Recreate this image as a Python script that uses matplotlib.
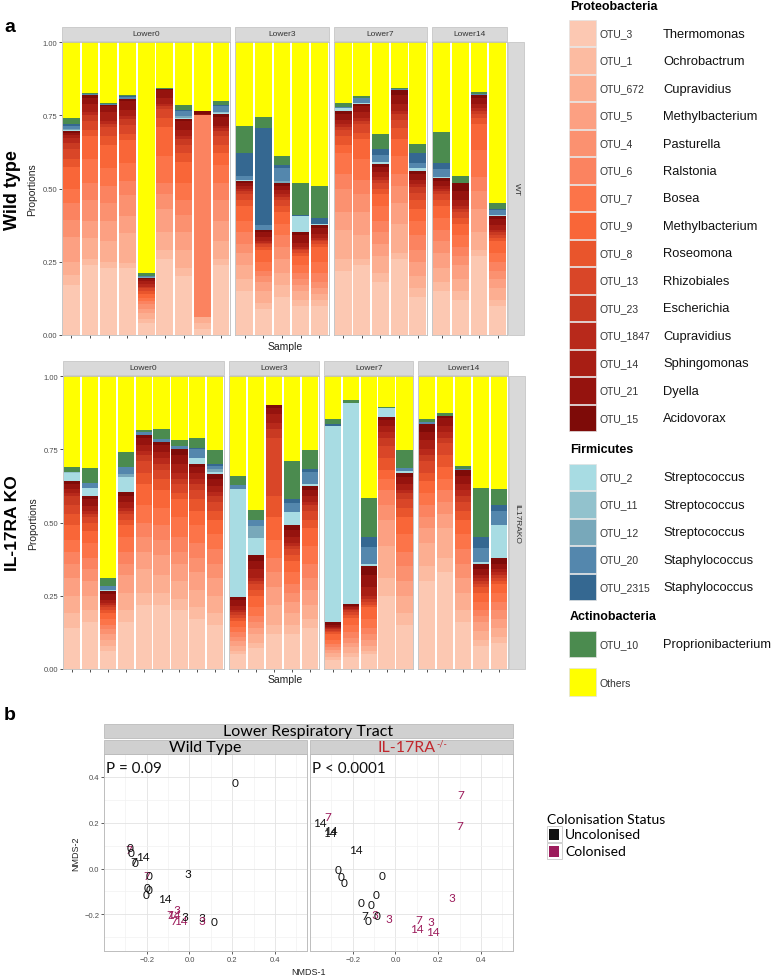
import matplotlib
matplotlib.use('Agg')
import matplotlib.pyplot as plt
from matplotlib.patches import Rectangle
import numpy as np

W, H = 778, 979

# legend / category info
proteo_otus = ['OTU_3', 'OTU_1', 'OTU_672', 'OTU_5', 'OTU_4', 'OTU_6', 'OTU_7', 'OTU_9',
               'OTU_8', 'OTU_13', 'OTU_23', 'OTU_1847', 'OTU_14', 'OTU_21', 'OTU_15']
proteo_genus = ['Thermomonas', 'Ochrobactrum', 'Cupravidius', 'Methylbacterium', 'Pasturella',
                'Ralstonia', 'Bosea', 'Methylbacterium', 'Roseomona', 'Rhizobiales',
                'Escherichia', 'Cupravidius', 'Sphingomonas', 'Dyella', 'Acidovorax']
proteo_colors = ['#FCC8B2', '#FCBBA1', '#FCAE91', '#FCA082', '#FB9170', '#FB8360', '#FC7449',
                 '#F96638', '#E9552C', '#D94628', '#C93A22', '#B8291B', '#A81E14', '#95130E',
                 '#7E0B08']
firm_otus = ['OTU_2', 'OTU_11', 'OTU_12', 'OTU_20', 'OTU_2315']
firm_genus = ['Streptococcus', 'Streptococcus', 'Streptococcus', 'Staphylococcus', 'Staphylococcus']
firm_colors = ['#A8DCE3', '#92C2CD', '#78A8BA', '#5487AD', '#356891']
actino_otus = ['OTU_10']
actino_genus = ['Proprionibacterium']
actino_color = '#4B8B4F'
others_color = '#FFFF00'

panel_names = ['Lower0', 'Lower3', 'Lower7', 'Lower14']

# ---- Wild type bars (proteo: 15 OTUs bottom->top, firm: 5 OTUs, actino) ----
wt0_proteo = [
    [0.17, 0.035, 0.045, 0.085, 0.057, 0.06, 0.048, 0.074, 0.026, 0.036, 0.02, 0.015, 0.012, 0.008, 0.005],
    [0.24, 0.02, 0.07, 0.06, 0.07, 0.06, 0.08, 0.08, 0.02, 0.03, 0.02, 0.01, 0.03, 0.02, 0.008],
    [0.23, 0.02, 0.07, 0.07, 0.06, 0.06, 0.06, 0.08, 0.03, 0.03, 0.01, 0.01, 0.03, 0.02, 0.005],
    [0.227, 0.02, 0.1, 0.06, 0.07, 0.05, 0.06, 0.08, 0.02, 0.03, 0.02, 0.01, 0.02, 0.03, 0.01],
    [0.04, 0.015, 0.02, 0.015, 0.015, 0.01, 0.01, 0.015, 0.01, 0.01, 0.005, 0.008, 0.01, 0.007, 0.005],
    [0.26, 0.03, 0.06, 0.08, 0.05, 0.04, 0.09, 0.1, 0.03, 0.03, 0.01, 0.01, 0.02, 0.025, 0.005],
    [0.2, 0.03, 0.06, 0.06, 0.06, 0.05, 0.06, 0.07, 0.03, 0.03, 0.02, 0.01, 0.02, 0.03, 0.008],
    [0.02, 0.02, 0.02, 0.0, 0.0, 0.69, 0.0, 0.0, 0.0, 0.0, 0.0, 0.0, 0.0, 0.005, 0.008],
    [0.24, 0.02, 0.06, 0.07, 0.07, 0.06, 0.06, 0.04, 0.03, 0.03, 0.015, 0.01, 0.01, 0.03, 0.01],
]
wt0_firm = [[0.003, 0, 0.005, 0.01, 0.005], [0, 0, 0, 0.003, 0], [0, 0, 0, 0.003, 0],
            [0, 0, 0, 0.005, 0.003], [0, 0, 0.003, 0.005, 0], [0, 0, 0, 0, 0],
            [0.004, 0, 0.005, 0.018, 0.003], [0, 0, 0, 0, 0], [0.004, 0.003, 0, 0.02, 0.003]]
wt0_actino = [0.02, 0.006, 0.005, 0.005, 0.01, 0.002, 0.018, 0.003, 0.014]

wt3_proteo = [
    [0.15, 0.04, 0.05, 0.04, 0.03, 0.04, 0.04, 0.05, 0.02, 0.02, 0.01, 0.01, 0.01, 0.01, 0.005],
    [0.09, 0.02, 0.04, 0.03, 0.02, 0.02, 0.03, 0.04, 0.01, 0.01, 0.005, 0.005, 0.015, 0.015, 0.008],
    [0.13, 0.04, 0.04, 0.05, 0.04, 0.04, 0.04, 0.04, 0.02, 0.02, 0.01, 0.01, 0.015, 0.015, 0.01],
    [0.1, 0.02, 0.03, 0.02, 0.02, 0.02, 0.03, 0.03, 0.01, 0.01, 0.005, 0.005, 0.015, 0.025, 0.01],
    [0.1, 0.02, 0.02, 0.02, 0.02, 0.03, 0.04, 0.05, 0.01, 0.01, 0.005, 0.005, 0.015, 0.02, 0.01],
]
wt3_firm = [[0.003, 0, 0, 0.015, 0.079], [0, 0, 0, 0.017, 0.33], [0, 0, 0.005, 0.045, 0.01],
            [0.055, 0, 0, 0, 0.006], [0.003, 0, 0, 0, 0.02]]
wt3_actino = [0.093, 0.04, 0.03, 0.108, 0.11]

wt7_proteo = [
    [0.22, 0.04, 0.1, 0.06, 0.08, 0.05, 0.07, 0.03, 0.03, 0.02, 0.01, 0.01, 0.015, 0.02, 0.01],
    [0.24, 0.02, 0.08, 0.08, 0.06, 0.05, 0.07, 0.07, 0.02, 0.03, 0.01, 0.01, 0.02, 0.02, 0.01],
    [0.18, 0.03, 0.06, 0.04, 0.04, 0.04, 0.05, 0.04, 0.02, 0.02, 0.01, 0.01, 0.015, 0.02, 0.01],
    [0.26, 0.02, 0.1, 0.07, 0.06, 0.04, 0.06, 0.06, 0.035, 0.03, 0.02, 0.01, 0.025, 0.03, 0.015],
    [0.13, 0.03, 0.04, 0.05, 0.04, 0.05, 0.05, 0.04, 0.03, 0.025, 0.02, 0.01, 0.015, 0.02, 0.01],
]
wt7_firm = [[0.01, 0, 0, 0.004, 0], [0.003, 0, 0, 0.015, 0], [0.005, 0, 0, 0.025, 0.02],
            [0, 0, 0, 0.004, 0], [0.01, 0, 0, 0.017, 0.035]]
wt7_actino = [0.013, 0.008, 0.05, 0.004, 0.03]

wt14_proteo = [
    [0.15, 0.03, 0.05, 0.05, 0.04, 0.04, 0.04, 0.04, 0.02, 0.02, 0.01, 0.01, 0.01, 0.015, 0.01],
    [0.12, 0.03, 0.04, 0.05, 0.03, 0.03, 0.04, 0.04, 0.02, 0.02, 0.01, 0.01, 0.02, 0.03, 0.03],
    [0.27, 0.02, 0.06, 0.08, 0.06, 0.05, 0.09, 0.09, 0.02, 0.015, 0.01, 0.01, 0.015, 0.02, 0.008],
    [0.1, 0.02, 0.04, 0.03, 0.03, 0.03, 0.03, 0.04, 0.01, 0.01, 0.01, 0.01, 0.015, 0.02, 0.01],
]
wt14_firm = [[0.005, 0, 0, 0.028, 0.02], [0, 0, 0, 0, 0], [0, 0, 0, 0.005, 0],
             [0.005, 0, 0, 0.015, 0.005]]
wt14_actino = [0.105, 0.022, 0.007, 0.02]

# ---- IL-17RA KO bars ----
ko0_proteo = [
    [0.14, 0.05, 0.06, 0.06, 0.05, 0.04, 0.04, 0.05, 0.04, 0.03, 0.03, 0.01, 0.015, 0.015, 0.01],
    [0.16, 0.04, 0.05, 0.05, 0.04, 0.04, 0.05, 0.04, 0.03, 0.02, 0.01, 0.01, 0.015, 0.025, 0.01],
    [0.06, 0.02, 0.02, 0.02, 0.015, 0.015, 0.02, 0.02, 0.01, 0.01, 0.01, 0.005, 0.01, 0.02, 0.01],
    [0.16, 0.04, 0.06, 0.06, 0.04, 0.04, 0.05, 0.04, 0.02, 0.02, 0.01, 0.01, 0.02, 0.02, 0.015],
    [0.22, 0.04, 0.08, 0.06, 0.05, 0.05, 0.06, 0.07, 0.04, 0.04, 0.02, 0.015, 0.02, 0.025, 0.01],
    [0.22, 0.04, 0.06, 0.07, 0.05, 0.05, 0.06, 0.06, 0.04, 0.03, 0.02, 0.02, 0.02, 0.025, 0.01],
    [0.2, 0.04, 0.06, 0.06, 0.04, 0.05, 0.07, 0.06, 0.02, 0.03, 0.02, 0.02, 0.03, 0.03, 0.02],
    [0.17, 0.04, 0.06, 0.06, 0.05, 0.05, 0.06, 0.05, 0.04, 0.03, 0.02, 0.02, 0.02, 0.02, 0.01],
    [0.15, 0.04, 0.06, 0.06, 0.05, 0.05, 0.05, 0.05, 0.03, 0.03, 0.02, 0.015, 0.02, 0.025, 0.015],
]
ko0_firm = [[0.03, 0.003, 0, 0, 0], [0.028, 0, 0, 0.017, 0], [0.005, 0, 0, 0.012, 0],
            [0.05, 0, 0.01, 0.025, 0], [0, 0, 0, 0.01, 0], [0, 0, 0, 0.01, 0],
            [0, 0, 0, 0.01, 0], [0.02, 0, 0, 0.03, 0.005], [0.006, 0, 0.01, 0.012, 0.005]]
ko0_actino = [0.017, 0.05, 0.03, 0.05, 0.006, 0.035, 0.02, 0.035, 0.05]

ko3_proteo = [
    [0.05, 0.01, 0.02, 0.015, 0.015, 0.015, 0.02, 0.02, 0.01, 0.01, 0.01, 0.005, 0.015, 0.02, 0.01],
    [0.07, 0.02, 0.03, 0.02, 0.02, 0.02, 0.03, 0.04, 0.02, 0.02, 0.01, 0.01, 0.03, 0.03, 0.02],
    [0.12, 0.03, 0.07, 0.06, 0.05, 0.05, 0.06, 0.08, 0.07, 0.2, 0.03, 0.02, 0.03, 0.02, 0.01],
    [0.12, 0.03, 0.04, 0.04, 0.03, 0.03, 0.04, 0.04, 0.02, 0.02, 0.01, 0.01, 0.02, 0.025, 0.015],
    [0.14, 0.03, 0.05, 0.05, 0.04, 0.05, 0.06, 0.06, 0.03, 0.03, 0.02, 0.01, 0.02, 0.02, 0.015],
]
ko3_firm = [[0.37, 0, 0, 0.012, 0], [0.057, 0, 0.04, 0.02, 0], [0, 0, 0, 0, 0],
            [0.045, 0, 0, 0.03, 0.015], [0.006, 0, 0, 0.04, 0.012]]
ko3_actino = [0.033, 0.035, 0.0, 0.13, 0.065]

ko7_proteo = [
    [0.03, 0.01, 0.015, 0.01, 0.01, 0.01, 0.015, 0.02, 0.005, 0.005, 0.005, 0.005, 0.005, 0.005, 0.01],
    [0.04, 0.015, 0.02, 0.015, 0.015, 0.02, 0.025, 0.025, 0.01, 0.01, 0.005, 0.005, 0.005, 0.005, 0.008],
    [0.05, 0.01, 0.02, 0.02, 0.02, 0.02, 0.03, 0.04, 0.01, 0.01, 0.01, 0.01, 0.03, 0.04, 0.03],
    [0.25, 0.06, 0.11, 0.09, 0.05, 0.05, 0.04, 0.03, 0.04, 0.04, 0.03, 0.02, 0.02, 0.02, 0.01],
    [0.15, 0.04, 0.06, 0.05, 0.05, 0.05, 0.06, 0.06, 0.03, 0.03, 0.02, 0.01, 0.02, 0.025, 0.015],
]
ko7_firm = [[0.67, 0, 0, 0, 0.006], [0.685, 0, 0, 0, 0], [0.007, 0, 0, 0.06, 0.035],
            [0.03, 0, 0, 0, 0], [0.007, 0, 0, 0.01, 0]]
ko7_actino = [0.016, 0.01, 0.13, 0.005, 0.06]

ko14_proteo = [
    [0.3, 0.05, 0.08, 0.05, 0.04, 0.04, 0.04, 0.04, 0.03, 0.04, 0.02, 0.02, 0.03, 0.03, 0.025],
    [0.33, 0.05, 0.1, 0.05, 0.04, 0.04, 0.04, 0.04, 0.04, 0.04, 0.02, 0.02, 0.02, 0.025, 0.01],
    [0.16, 0.04, 0.06, 0.05, 0.05, 0.05, 0.05, 0.05, 0.03, 0.03, 0.02, 0.02, 0.02, 0.03, 0.02],
    [0.08, 0.02, 0.03, 0.03, 0.02, 0.02, 0.03, 0.03, 0.02, 0.01, 0.01, 0.01, 0.01, 0.02, 0.02],
    [0.09, 0.02, 0.03, 0.03, 0.03, 0.03, 0.03, 0.03, 0.01, 0.01, 0.01, 0.01, 0.01, 0.02, 0.02],
]
ko14_firm = [[0, 0, 0, 0.009, 0], [0, 0, 0, 0, 0], [0, 0, 0, 0.003, 0],
             [0.004, 0, 0, 0.05, 0.035], [0.11, 0, 0, 0.05, 0.02]]
ko14_actino = [0.008, 0.008, 0.01, 0.17, 0.054]

# ---- NMDS ordination (panel b) ----
wt_x = [0.214, -0.285, -0.278, -0.274, -0.22, -0.262, -0.255, -0.008, -0.2, -0.19, -0.2, -0.19,
        -0.203, -0.115, -0.09, -0.075, -0.057, -0.072, -0.042, -0.022, 0.057, 0.057, 0.116]
wt_y = [0.374, 0.084, 0.091, 0.072, 0.052, 0.029, 0.026, -0.022, -0.032, -0.032, -0.083, -0.09,
        -0.115, -0.129, -0.2, -0.2, -0.18, -0.228, -0.228, -0.21, -0.215, -0.228, -0.232]
wt_lab = ['0', '7', '0', '0', '14', '7', '0', '3', '7', '0', '0', '0',
          '0', '14', '7', '14', '3', '7', '14', '3', '3', '3', '0']
wt_col = [0, 1, 0, 0, 0, 0, 0, 0, 1, 0, 0, 0, 0, 0, 1, 1, 1, 1, 1, 0, 0, 1, 0]

ko_x = [-0.353, -0.318, -0.307, -0.3, -0.187, -0.268, -0.253, -0.241, -0.064, -0.09, -0.163, -0.116,
        -0.144, -0.129, -0.098, -0.084, -0.031, 0.305, 0.301, 0.262, 0.11, 0.1, 0.168, 0.177]
ko_y = [0.2, 0.229, 0.159, 0.165, 0.083, -0.003, -0.036, -0.061, -0.029, -0.115, -0.148, -0.158,
        -0.203, -0.225, -0.2, -0.203, -0.217, 0.322, 0.187, -0.126, -0.222, -0.26, -0.23, -0.275]
ko_lab = ['14', '7', '14', '14', '14', '0', '0', '0', '0', '0', '0', '0',
          '7', '0', '3', '0', '3', '7', '7', '3', '7', '14', '3', '14']
ko_col = [0, 1, 0, 0, 0, 0, 0, 0, 0, 0, 0, 0, 0, 0, 1, 0, 1, 1, 1, 1, 1, 1, 1, 1]

status_names = ['Uncolonised', 'Colonised']
status_colors = ['#111111', '#9C1B5B']

# ------------------------------------------------------------------
AFONT = 'Liberation Sans'
BFONT = 'Lato'
STRIP = '#D9D9D9'
BORDER = '#BDBDBD'

fig = plt.figure(figsize=(W / 100, H / 100), dpi=100)


def add_ax(x0, y0, x1, y1):
    return fig.add_axes([x0 / W, 1 - y1 / H, (x1 - x0) / W, (y1 - y0) / H])


def draw_bars(ax, proteo, firm, actino):
    proteo = np.array(proteo, dtype=float)
    firm = np.array(firm, dtype=float)
    actino = np.array(actino, dtype=float)
    n = len(proteo)
    x = np.arange(n)
    bottom = np.zeros(n)
    for k in range(proteo.shape[1]):
        ax.bar(x, proteo[:, k], bottom=bottom, width=0.9, color=proteo_colors[k], linewidth=0)
        bottom += proteo[:, k]
    for k in range(firm.shape[1]):
        ax.bar(x, firm[:, k], bottom=bottom, width=0.9, color=firm_colors[k], linewidth=0)
        bottom += firm[:, k]
    ax.bar(x, actino, bottom=bottom, width=0.9, color=actino_color, linewidth=0)
    bottom += actino
    ax.bar(x, np.clip(1 - bottom, 0, None), bottom=bottom, width=0.9, color=others_color, linewidth=0)
    ax.set_xlim(-0.5, n - 0.5)
    ax.set_ylim(0, 1)
    ax.set_xticks(x)
    ax.set_xticklabels([])
    ax.tick_params(axis='x', length=2, width=0.6, color='#333333')
    for s in ax.spines.values():
        s.set_color(BORDER)
        s.set_linewidth(0.6)


rows = [
    dict(data=[(wt0_proteo, wt0_firm, wt0_actino), (wt3_proteo, wt3_firm, wt3_actino),
               (wt7_proteo, wt7_firm, wt7_actino), (wt14_proteo, wt14_firm, wt14_actino)],
         top=43, bot=336, x0=62, x1=507, strip=28, side='WT', title='Wild type'),
    dict(data=[(ko0_proteo, ko0_firm, ko0_actino), (ko3_proteo, ko3_firm, ko3_actino),
               (ko7_proteo, ko7_firm, ko7_actino), (ko14_proteo, ko14_firm, ko14_actino)],
         top=377, bot=670, x0=63, x1=508, strip=362, side='IL17RAKO', title='IL-17RA KO'),
]

strips = []
gap = 5
for row in rows:
    counts = [len(d[0]) for d in row['data']]
    unit = (row['x1'] - row['x0'] - gap * 3) / sum(counts)
    xs = row['x0']
    for i, (d, n) in enumerate(zip(row['data'], counts)):
        xe = xs + unit * n
        ax = add_ax(xs, row['top'], xe, row['bot'])
        draw_bars(ax, *d)
        if i == 0:
            ax.set_yticks([0, 0.25, 0.5, 0.75, 1.0])
            ax.set_yticklabels(['0.00', '0.25', '0.50', '0.75', '1.00'], fontsize=5.5,
                               color='#4D4D4D', family=AFONT)
            ax.tick_params(axis='y', length=2, width=0.6, color='#333333', pad=1.5)
            ax.set_ylabel('Proportions', fontsize=7.5, family=AFONT, labelpad=4, color='#222222')
        else:
            ax.set_yticks([])
        strips.append((xs, row['strip'], xe, row['top'] - 1, panel_names[i], 0))
        xs = xe + gap
    strips.append((row['x1'] + 1.5, row['top'], row['x1'] + 17, row['bot'], row['side'], -90))

# ---- panel b scatter ----
ax_wt = add_ax(104, 755, 307, 952)
ax_ko = add_ax(310, 755, 513, 952)
for ax, xs_, ys_, labs, cols, ptxt in [(ax_wt, wt_x, wt_y, wt_lab, wt_col, 'P = 0.09'),
                                       (ax_ko, ko_x, ko_y, ko_lab, ko_col, 'P < 0.0001')]:
    ax.set_xlim(-0.4, 0.55)
    ax.set_ylim(-0.36, 0.5)
    ax.set_xticks([-0.2, 0.0, 0.2, 0.4])
    ax.set_xticks([-0.3, -0.1, 0.1, 0.3, 0.5], minor=True)
    ax.set_yticks([-0.2, 0.0, 0.2, 0.4])
    ax.set_yticks([-0.3, -0.1, 0.1, 0.3], minor=True)
    ax.grid(True, which='major', color='#E3E3E3', linewidth=0.6)
    ax.grid(True, which='minor', color='#F2F2F2', linewidth=0.5)
    ax.set_axisbelow(True)
    ax.set_xticklabels(['\u22120.2', '0.0', '0.2', '0.4'], fontsize=5.5, color='#4D4D4D', family=AFONT)
    ax.tick_params(which='major', length=2, width=0.6, color='#444444', pad=1.5)
    ax.tick_params(which='minor', length=0)
    for s in ax.spines.values():
        s.set_color(BORDER)
        s.set_linewidth(0.7)
    for x, y, t, c in zip(xs_, ys_, labs, cols):
        ax.text(x, y, t, ha='center', va='center', fontsize=8.5, family=BFONT, color=status_colors[c])
    ax.text(0.012, 0.965, ptxt, transform=ax.transAxes, ha='left', va='top', fontsize=11,
            family=BFONT, color='#111111')
ax_wt.set_yticklabels(['\u22120.2', '0.0', '0.2', '0.4'], fontsize=5.5, color='#4D4D4D', family=AFONT)
ax_ko.set_yticklabels([])
ax_ko.tick_params(axis='y', length=0)
ax_wt.set_ylabel('NMDS-2', fontsize=6.5, family=AFONT, labelpad=3, color='#222222')
fig.text(309 / W, 1 - 973 / H, 'NMDS-1', ha='center', va='center', fontsize=6.5, family=AFONT,
         color='#222222')

# ---- overlay (strips, legends, labels) ----
ov = fig.add_axes([0, 0, 1, 1])
ov.set_xlim(0, W)
ov.set_ylim(H, 0)
ov.axis('off')

for x0, y0, x1, y1, t, rot in strips:
    ov.add_patch(Rectangle((x0, y0), x1 - x0, y1 - y0, facecolor=STRIP, edgecolor='#C6C6C6', lw=0.6))
    ov.text((x0 + x1) / 2, (y0 + y1) / 2, t, ha='center', va='center', rotation=rot,
            fontsize=6, family=AFONT, color='#333333')

ov.text(4, 27, 'a', fontsize=14, fontweight='bold', family=AFONT, va='center')
ov.text(4, 716, 'b', fontsize=14, fontweight='bold', family=AFONT, va='center')
ov.text(13, 190, rows[0]['title'], rotation=90, fontsize=13, fontweight='bold', family=AFONT,
        ha='center', va='center')
ov.text(13, 523, rows[1]['title'], rotation=90, fontsize=12.5, fontweight='bold', family=AFONT,
        ha='center', va='center')
ov.text(285, 347, 'Sample', fontsize=7.5, family=AFONT, ha='center', va='center', color='#222222')
ov.text(285, 680, 'Sample', fontsize=7.5, family=AFONT, ha='center', va='center', color='#222222')

# legend for panel a
sx0, sx1 = 569, 596
step = 27.5


def legend_group(header, header_y, first_y, otus, genus, colors):
    ov.text(570, header_y, header, fontsize=9, fontweight='bold', family=AFONT, va='center')
    for j, (o, g, c) in enumerate(zip(otus, genus, colors)):
        yc = first_y + j * step
        ov.add_patch(Rectangle((sx0, yc - step / 2 + 0.6), sx1 - sx0, step - 1.2, facecolor=c,
                               edgecolor='#E2E2E2', lw=0.5))
        ov.text(600, yc + 3, o, fontsize=7.5, family=AFONT, va='baseline', color='#333333')
        ov.text(663, yc + 3.5, g, fontsize=9.3, family=AFONT, va='baseline', color='#111111')


legend_group('Proteobacteria', 7, 34, proteo_otus, proteo_genus, proteo_colors)
legend_group('Firmicutes', 450, 478, firm_otus, firm_genus, firm_colors)
legend_group('Actinobacteria', 617, 645, actino_otus, actino_genus, [actino_color])
ov.add_patch(Rectangle((sx0, 669), sx1 - sx0, 28, facecolor=others_color, edgecolor='#E2E2E2', lw=0.5))
ov.text(600, 687, 'Others', fontsize=7.5, family=AFONT, va='baseline', color='#333333')

# strips for panel b
ov.add_patch(Rectangle((104, 725), 409, 14, facecolor='#D0D0D0', edgecolor='#BBBBBB', lw=0.6))
ov.text(308, 732.5, 'Lower Respiratory Tract', fontsize=11.5, family=BFONT, ha='center', va='center')
ov.add_patch(Rectangle((104, 741), 203, 14, facecolor='#D0D0D0', edgecolor='#BBBBBB', lw=0.6))
ov.text(205.5, 748, 'Wild Type', fontsize=11.5, family=BFONT, ha='center', va='center')
ov.add_patch(Rectangle((310, 741), 203, 14, facecolor='#D0D0D0', edgecolor='#BBBBBB', lw=0.6))
il = ov.text(378, 748, 'IL-17RA', fontsize=11.5, family=BFONT, ha='left', va='center',
             color='#C1272D')
renderer = fig.canvas.get_renderer()
bb = il.get_window_extent(renderer)
x_end = ov.transData.inverted().transform((bb.x1, bb.y1))[0]
ov.text(x_end + 0.5, 744, '-/-', fontsize=6.5, family=BFONT, ha='left', va='center', color='#C1272D')

# colonisation legend
ov.text(547, 820, 'Colonisation Status', fontsize=10, family=BFONT, va='center')
for j, (name, c) in enumerate(zip(status_names, status_colors)):
    yc = 835 + j * 17
    ov.add_patch(Rectangle((547, yc - 8), 15, 16, facecolor='white', edgecolor='#C8C8C8', lw=0.6))
    ov.add_patch(Rectangle((549.5, yc - 5.5), 10, 11, facecolor=c, edgecolor='none'))
    ov.text(565, yc, name, fontsize=10, family=BFONT, va='center')

fig.savefig('out.png', dpi=100)
